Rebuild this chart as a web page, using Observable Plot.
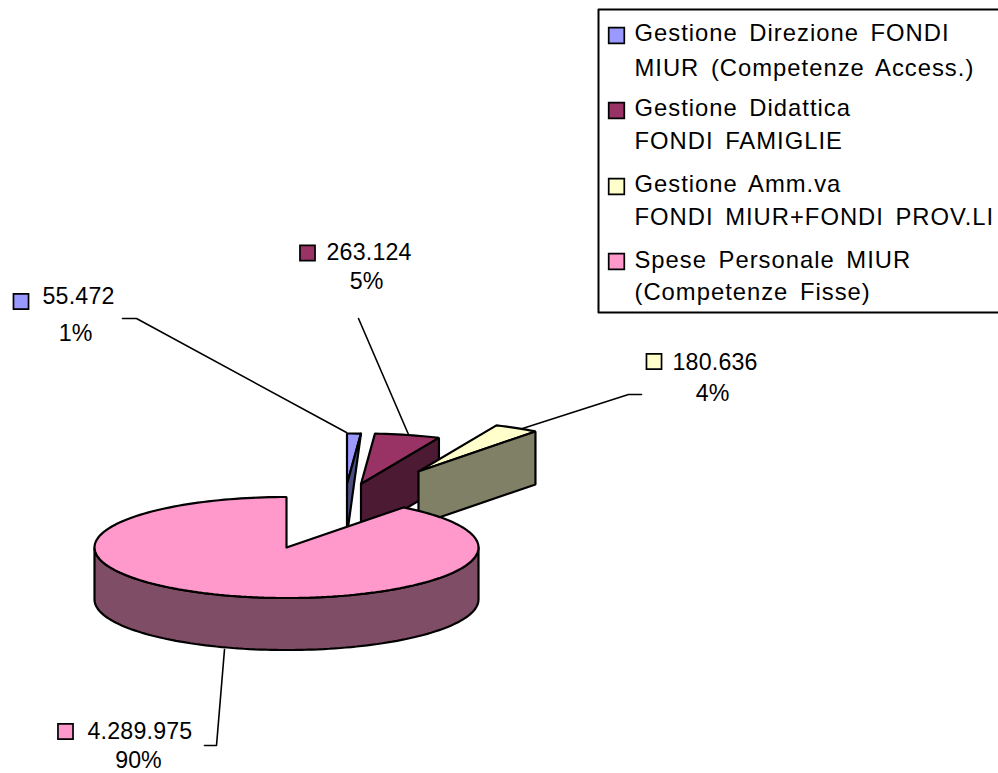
<!DOCTYPE html>
<html><head><meta charset="utf-8">
<style>html,body{margin:0;padding:0;background:#fff}svg{display:block}</style>
<script src="https://cdn.jsdelivr.net/npm/d3@7"></script>
<script src="https://cdn.jsdelivr.net/npm/@observablehq/plot@0.6"></script>
</head><body>
<script>
// Data
const categories = [
  ["Gestione Direzione FONDI", "MIUR (Competenze Access.)"],
  ["Gestione Didattica", "FONDI FAMIGLIE"],
  ["Gestione Amm.va", "FONDI MIUR+FONDI PROV.LI"],
  ["Spese Personale MIUR", "(Competenze Fisse)"]
];
const values = [55472, 263124, 180636, 4289975];
const valueLabels = ["55.472", "263.124", "180.636", "4.289.975"];
const percentLabels = ["1%", "5%", "4%", "90%"];
const topColors = ["#9999FF", "#993366", "#FFFFCC", "#FF99CC"];
const sideColors = ["#4D4D80", "#4D1A33", "#808066", "#804D66"];

// Pie layout (3-D projection: an ellipse extruded downwards)
const W = 998, H = 773;
const RX = 192, RY = 50.5, DEPTH = 51;
const centres = [[346.5, 483.5], [360.5, 483.5], [418, 471], [286, 547]];

const total = d3.sum(values);
let acc = 0;
const slices = values.map((v, i) => {
  const a0 = acc / total * 2 * Math.PI; acc += v;
  return {i, a0, a1: acc / total * 2 * Math.PI, c: centres[i]};
});
const rim = (s, a, dz = 0) => ({x: s.c[0] + RX * Math.sin(a), y: s.c[1] - RY * Math.cos(a) + dz});
const arc = (s, a0, a1, dz = 0) => {
  const n = Math.max(2, Math.ceil(Math.abs(a1 - a0) / 0.03));
  return d3.range(n + 1).map(k => rim(s, a0 + (a1 - a0) * k / n, dz));
};
const apex = (s, dz = 0) => ({x: s.c[0], y: s.c[1] + dz});

const polys = [];
const addPoly = (id, fill, pts) => {
  [...pts, pts[0]].forEach(p => polys.push({x: p.x, y: p.y, id, fill}));
};
// Exploded small slices, back to front
const [sA, sB, sC, sD] = slices;
addPoly("a-top", topColors[0], [apex(sA), ...arc(sA, sA.a0, sA.a1)]);
addPoly("a-cut", sideColors[0], [rim(sA, sA.a1), apex(sA), apex(sA, DEPTH)]);
addPoly("b-top", topColors[1], [apex(sB), ...arc(sB, sB.a0, sB.a1)]);
addPoly("b-cut", sideColors[1], [apex(sB), rim(sB, sB.a1), rim(sB, sB.a1, DEPTH), apex(sB, DEPTH)]);
addPoly("c-top", topColors[2], [apex(sC), ...arc(sC, sC.a0, sC.a1)]);
addPoly("c-cut", sideColors[2], [apex(sC), rim(sC, sC.a1), rim(sC, sC.a1, DEPTH + 2), apex(sC, DEPTH + 2)]);
// Main slice
addPoly("d-side", sideColors[3], [...arc(sD, Math.PI / 2, 3 * Math.PI / 2), ...arc(sD, 3 * Math.PI / 2, Math.PI / 2, DEPTH + 1)]);
addPoly("d-top", topColors[3], [apex(sD), ...arc(sD, sD.a0, sD.a1)]);

// Annotation layout
const legendSwatchY = [35, 110, 186, 261];
const legendLineY = [[33, 68], [108, 141], [184, 217], [260, 292]];
const legendRows = categories.flatMap((lines, i) => lines.map((t, j) => ({t, y: legendLineY[i][j]})));
const legendFrame = [{x: 598, y: 9}, {x: 1002, y: 9}, {x: 1002, y: 312}, {x: 598, y: 312}, {x: 598, y: 9}];
const legendSwatches = legendSwatchY.map((y, i) => ({x: 616, y, fill: topColors[i]}));

const labelSwatchX = [20.5, 307, 653.5, 65];
const labelSwatchY = [301, 252.5, 361, 731];
const labelValueX = [42, 326, 672, 87];
const labelValueY = [296, 252, 362, 731];
const labelPctX = [75, 366, 712, 138];
const labelPctY = [333, 281, 393, 760];
const labelSwatches = values.map((_, i) => ({x: labelSwatchX[i], y: labelSwatchY[i], fill: topColors[i]}));
const valueRows = valueLabels.map((t, i) => ({t, x: labelValueX[i], y: labelValueY[i]}));
const pctRows = percentLabels.map((t, i) => ({t, x: labelPctX[i], y: labelPctY[i]}));

const leaders = [
  [[122, 318], [136, 318], [346, 432]],
  [[358, 318], [408, 434]],
  [[522, 428], [628, 394], [641, 394]],
  [[224, 649], [216, 745], [204, 745]]
].flatMap((pts, id) => pts.map(([x, y]) => ({x, y, id})));

const font = {fontFamily: "'Liberation Sans', Arial, sans-serif", fontSize: 23.2, fill: "#000"};
const swatch = (data, size) => Plot.dot(data, {x: "x", y: "y", symbol: "square", r: size, fill: "fill", stroke: "#000", strokeWidth: 1.7});

const chart = Plot.plot({
  width: W, height: H,
  marginTop: 0, marginRight: 0, marginBottom: 0, marginLeft: 0,
  x: {domain: [0, W], range: [0, W], axis: null},
  y: {domain: [0, H], range: [0, H], axis: null},
  color: {type: "identity"},
  style: {background: "#fff"},
  marks: [
    Plot.line(polys, {x: "x", y: "y", z: "id", fill: "fill", stroke: "#000", strokeWidth: 2.2, strokeLinejoin: "miter"}),
    Plot.line(leaders, {x: "x", y: "y", z: "id", stroke: "#000", strokeWidth: 1.6}),
    Plot.line(legendFrame, {x: "x", y: "y", stroke: "#000", strokeWidth: 2}),
    swatch(legendSwatches, 8.8),
    Plot.text(legendRows, {x: () => 634, y: "y", text: "t", textAnchor: "start", ...font, fontSize: 23.8}),
    swatch(labelSwatches, 8.5),
    Plot.text(valueRows, {x: "x", y: "y", text: "t", textAnchor: "start", ...font}),
    Plot.text(pctRows, {x: "x", y: "y", text: "t", textAnchor: "middle", ...font})
  ]
});
const textGroups = chart.querySelectorAll('g[aria-label="text"]');
textGroups[0].style.letterSpacing = "1px";
textGroups[0].style.wordSpacing = "4px";
textGroups[1].style.letterSpacing = "0.2px";
document.body.appendChild(chart);
</script>
</body></html>
